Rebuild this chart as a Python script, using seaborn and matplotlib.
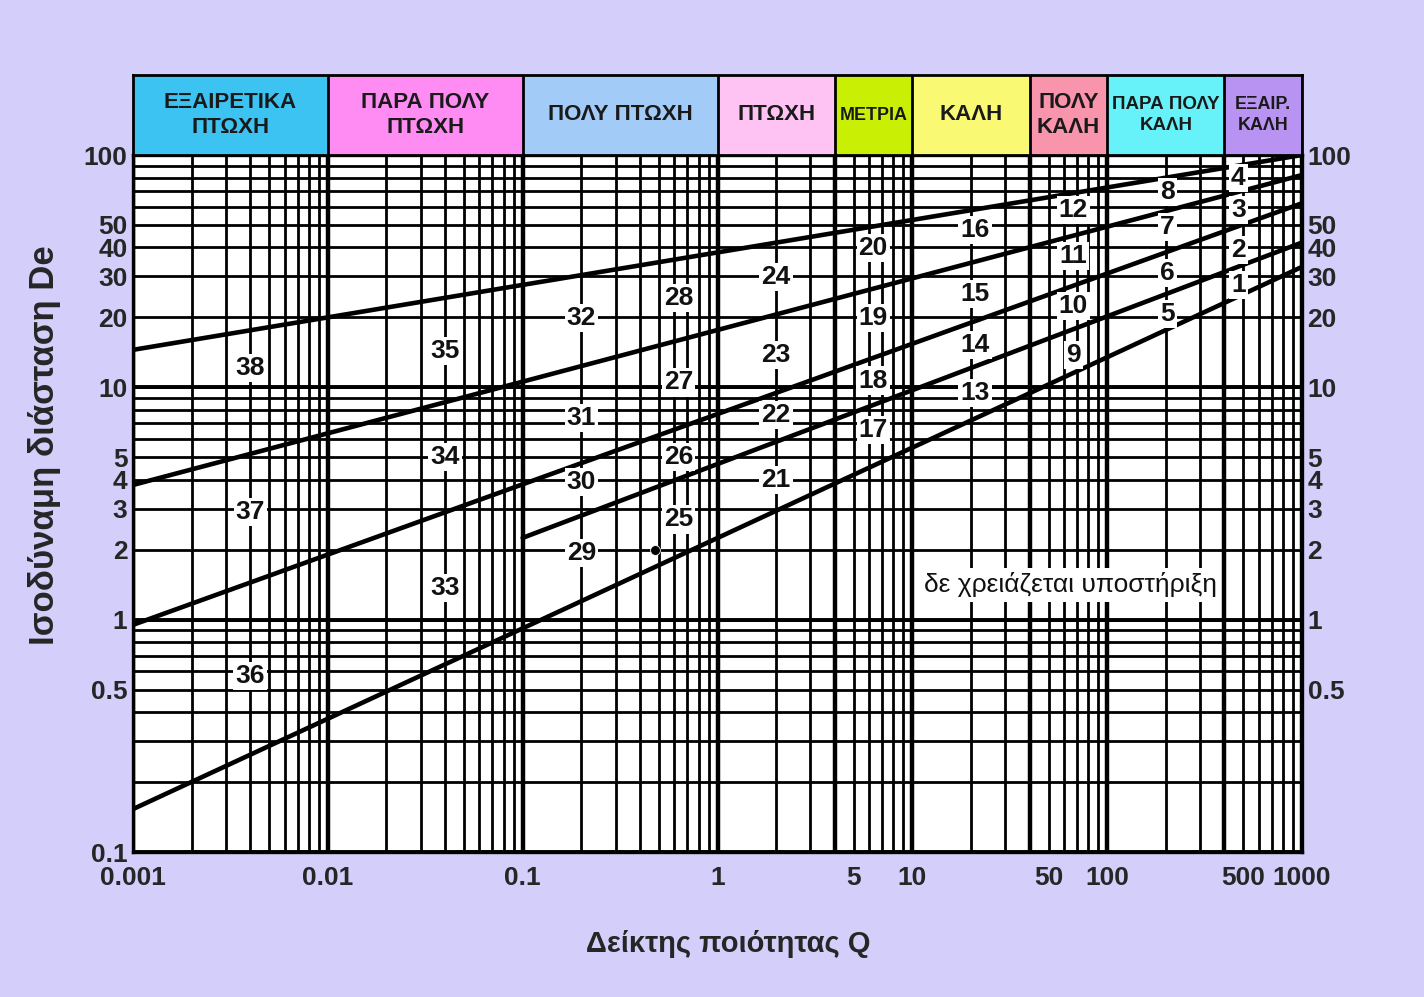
import numpy as np
import pandas as pd
import matplotlib
matplotlib.use("Agg")
import matplotlib.pyplot as plt
import matplotlib.ticker as mticker
from matplotlib import font_manager
import seaborn as sns

# rock mass quality classes along the top band
class_edges = [0.001, 0.01, 0.1, 1, 4, 10, 40, 100, 400, 1000]
class_names = ["ΕΞΑΙΡΕΤΙΚΑ\nΠΤΩΧΗ", "ΠΑΡΑ ΠΟΛΥ\nΠΤΩΧΗ", "ΠΟΛΥ ΠΤΩΧΗ", "ΠΤΩΧΗ",
               "ΜΕΤΡΙΑ", "ΚΑΛΗ", "ΠΟΛΥ\nΚΑΛΗ", "ΠΑΡΑ ΠΟΛΥ\nΚΑΛΗ", "ΕΞΑΙΡ.\nΚΑΛΗ"]
class_colors = ["#3cc3f2", "#fe8cf2", "#a3cbf7", "#fec3f2", "#c9f004",
                "#f9f973", "#f894ab", "#66f2f8", "#b993f2"]

# support category boundary lines (Q, De)
line_names = ["A", "B", "C", "D", "E"]
line_q = [[0.001, 1000], [0.001, 1000], [0.001, 1000], [0.001, 1000], [0.1, 1000]]
line_de = [[14.5, 100], [3.8, 82], [0.95, 62], [0.153, 33], [2.25, 42]]

# support category numbers
zone_id = [38, 37, 36,
           35, 34, 33,
           32, 31, 30, 29,
           28, 27, 26, 25,
           24, 23, 22, 21,
           20, 19, 18, 17,
           16, 15, 14, 13,
           12, 11, 10, 9,
           8, 7, 6, 5,
           4, 3, 2, 1]
zone_q = [0.004] * 3 + [0.04] * 3 + [0.2] * 4 + [0.63] * 4 + [2.0] * 4 + \
         [6.3] * 4 + [21] * 4 + [67] * 4 + [203] * 4 + [471] * 4
zone_de = [12.1, 2.9, 0.57,
           14.3, 5.0, 1.37,
           19.9, 7.4, 3.9, 1.94,
           24.2, 10.5, 5.0, 2.7,
           29.8, 13.8, 7.6, 4.0,
           39.8, 19.9, 10.7, 6.55,
           47.6, 25.2, 15.2, 9.45,
           58.0, 36.8, 22.4, 13.8,
           69.3, 49.0, 31.0, 20.7,
           79.6, 58.0, 39.0, 27.6]

dot_q, dot_de = [0.48], [2.0]

x_ticks = [0.001, 0.01, 0.1, 1, 5, 10, 50, 100, 500, 1000]
x_labels = ["0.001", "0.01", "0.1", "1", "5", "10", "50", "100", "500", "1000"]
y_ticks = [0.1, 0.5, 1, 2, 3, 4, 5, 10, 20, 30, 40, 50, 100]
y_labels = ["0.1", "0.5", "1", "2", "3", "4", "5", "10", "20", "30", "40", "50", "100"]
yr_ticks = y_ticks[1:]
yr_labels = y_labels[1:]

sns.set_theme(style="white")
installed = {f.name for f in font_manager.fontManager.ttflist}
main_font = "Liberation Sans Narrow" if "Liberation Sans Narrow" in installed else "Liberation Sans"
plt.rcParams["font.family"] = [main_font, "DejaVu Sans"]

bg = "#d3cefa"
fig = plt.figure(figsize=(14.24, 9.97), dpi=100, facecolor=bg)
ax = fig.add_axes([133 / 1424, 1 - 852 / 997, 1169 / 1424, 697 / 997])
ax.set_facecolor("white")
ax.set_xscale("log")
ax.set_yscale("log")
ax.set_xlim(0.001, 1000)
ax.set_ylim(0.1, 100)

# dense log grid
ax.xaxis.set_minor_locator(mticker.LogLocator(base=10, subs=np.arange(2, 10), numticks=30))
ax.yaxis.set_minor_locator(mticker.LogLocator(base=10, subs=np.arange(2, 10), numticks=30))
ax.xaxis.set_minor_formatter(mticker.NullFormatter())
ax.yaxis.set_minor_formatter(mticker.NullFormatter())
ax.grid(which="both", color="black", linewidth=2.0)

# thicker decade and class boundary lines
for e in class_edges:
    ax.axvline(e, color="black", linewidth=3.2, zorder=1)
for d in [0.1, 1, 10, 100]:
    ax.axhline(d, color="black", linewidth=2.8, zorder=1)

lines = pd.DataFrame({
    "line": np.repeat(line_names, 2),
    "Q": np.concatenate(line_q),
    "De": np.concatenate(line_de),
})
sns.lineplot(data=lines, x="Q", y="De", units="line", estimator=None,
             color="black", linewidth=3.3, ax=ax, zorder=3)
sns.scatterplot(x=dot_q, y=dot_de, color="black", s=50, ax=ax, zorder=4)

for n, q, de in zip(zone_id, zone_q, zone_de):
    ax.text(q, de, str(n), ha="center", va="center", fontsize=19, fontweight="bold",
            color="#111111", zorder=5,
            bbox=dict(facecolor="white", edgecolor="none", pad=1.5))

ax.text(64.6, 1.41, "δε χρειάζεται υποστήριξη", ha="center", va="center",
        fontsize=19, color="#111111", zorder=5,
        bbox=dict(facecolor="white", edgecolor="none", pad=3))

ax.set_xticks(x_ticks)
ax.set_xticklabels(x_labels)
ax.set_yticks(y_ticks)
ax.set_yticklabels(y_labels)
ax.tick_params(which="both", length=0)
ax.tick_params(axis="x", pad=10, labelsize=19)
ax.tick_params(axis="y", pad=4, labelsize=19)
for t in ax.get_xticklabels() + ax.get_yticklabels():
    t.set_fontweight("bold")
for s in ax.spines.values():
    s.set_color("black")
    s.set_linewidth(2.4)

ax.set_xlabel("Δείκτης ποιότητας Q", fontsize=21, fontweight="bold")
ax.set_ylabel("Ισοδύναμη διάσταση De", fontsize=25, fontweight="bold")
ax.xaxis.set_label_coords(0.509, -0.112)
ax.yaxis.set_label_coords(-0.062, 0.584)

axr = ax.twinx()
axr.set_yscale("log")
axr.set_ylim(0.1, 100)
axr.yaxis.set_minor_locator(mticker.NullLocator())
axr.set_yticks(yr_ticks)
axr.set_yticklabels(yr_labels)
axr.tick_params(length=0, pad=4, labelsize=19)
for t in axr.get_yticklabels():
    t.set_fontweight("bold")
axr.grid(False)
for s in axr.spines.values():
    s.set_visible(False)

# top band with quality classes
px_per_decade = 1169 / 6
axt = fig.add_axes([133 / 1424, 1 - 155 / 997, 1169 / 1424, 80 / 997])
axt.set_xscale("log")
axt.set_xlim(0.001, 1000)
axt.set_ylim(0, 1)
for lo, hi, name, c in zip(class_edges[:-1], class_edges[1:], class_names, class_colors):
    axt.axvspan(lo, hi, color=c, zorder=1)
    axt.axvline(hi, color="black", linewidth=2, zorder=2)
    # shrink the font in narrow boxes so the text fits
    box_w = np.log10(hi / lo) * px_per_decade
    longest = max(len(part) for part in name.split("\n"))
    fs = min(16, (box_w - 8) / (0.9 * longest))
    axt.text(np.sqrt(lo * hi), 0.5, name, ha="center", va="center", fontsize=fs,
             fontweight="bold", color="#1a1a1a", linespacing=1.3, zorder=3)
axt.set_xticks([])
axt.set_yticks([])
axt.xaxis.set_minor_locator(mticker.NullLocator())
for s in axt.spines.values():
    s.set_color("black")
    s.set_linewidth(2)

fig.savefig("out.png", dpi=100, facecolor=bg)
